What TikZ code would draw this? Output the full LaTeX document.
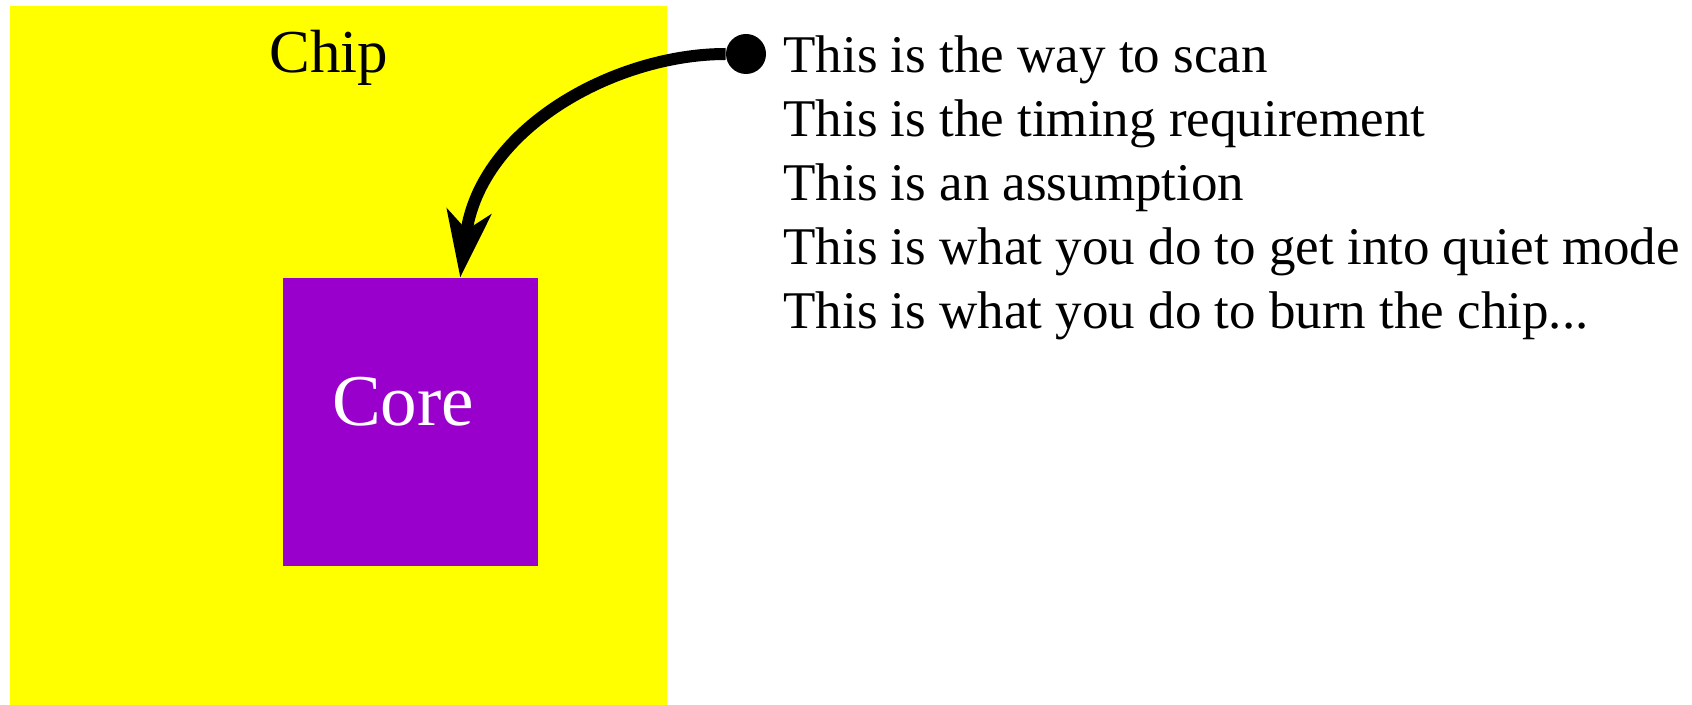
\documentclass[tikz,border=0pt]{standalone}
\usepackage{fontspec}
\setmainfont{Liberation Serif}
\usepackage{xcolor}
\usetikzlibrary{arrows.meta,positioning}
\definecolor{chipyellow}{HTML}{FFFF00}
\definecolor{corepurple}{HTML}{9900CC}

\begin{document}
\begin{tikzpicture}[x=0.5pt, y=-0.5pt, >=Stealth,
  chipbox/.style={fill=chipyellow, minimum width=328.5pt, minimum height=349.5pt, inner sep=0},
  corebox/.style={fill=corepurple, minimum width=127.5pt, minimum height=144pt, inner sep=0},
  notes/.style={align=left, inner sep=0, font=\fontsize{26.5}{32}\selectfont}]
  \useasboundingbox (0,0) rectangle (1692,705);
  % chip and core
  \node[chipbox] (chip) at (338.5,355.5) {};
  \node[anchor=base, inner sep=0, font=\fontsize{30.5}{36}\selectfont] (chiplabel) at (329,73) {Chip};
  \node[corebox] (core) at (410.5,422) {};
  \node[anchor=base, inner sep=0, text=white, font=\fontsize{36.5}{44}\selectfont] (corelabel) at (403,426) {Core};
  % scan point
  \node[circle, fill=black, minimum size=20pt, inner sep=0] (dot) at (746,54) {};
  \draw[line width=6pt, -{Stealth[length=33pt, width=22pt, inset=9pt]}]
    (dot.west) .. controls +(-110,0) and +(20,-150) .. (core.71);
  % notes (anchored on the last line)
  \node[notes, anchor=base west] (notes) at (783,329)
    {This is the way to scan\\
     This is the timing requirement\\
     This is an assumption\\
     This is what you do to get into quiet mode\\
     This is what you do to burn the chip...};
\end{tikzpicture}
\end{document}
